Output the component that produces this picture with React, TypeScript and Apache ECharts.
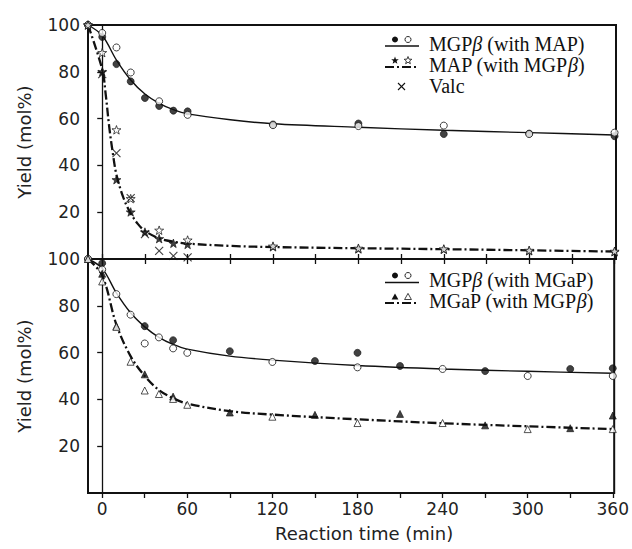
import React, { useEffect, useRef } from "react";
import * as echarts from "echarts";

// ---------- axis values ----------
const xTickValues = [0, 30, 60, 90, 120, 150, 180, 210, 240, 270, 300, 330, 360];
const xLabelValues = [0, 60, 120, 180, 240, 300, 360];
const yLabelValues = [20, 40, 60, 80, 100];
const yRightTicks = [20, 40, 60, 80];

// ---------- top panel: MGPβ with MAP ----------
const topMGPFilled = [[-10, 100], [0, 94.9], [10, 83.3], [20, 75.9], [30, 68.8], [40, 65.4], [50, 63.4], [60, 63.1], [120, 57.5], [180, 57.9], [240, 53.4], [300, 53.6], [360, 52.5]];
const topMGPOpen = [[-10, 100], [0, 96.6], [10, 90.4], [20, 79.7], [40, 67.4], [60, 61.6], [120, 57.2], [180, 56.8], [240, 57], [300, 53.4], [360, 54]];
const topMAPFilled = [[-10, 100], [0, 80], [10, 33.9], [20, 20.1], [30, 11.5], [40, 8.7], [50, 6.7], [60, 6.2], [120, 5.2], [180, 4.3], [240, 4.1], [300, 3.5], [360, 3.1]];
const topMAPOpen = [[-10, 100], [0, 88.2], [10, 55.2], [20, 25.8], [40, 12.3], [60, 8.1], [120, 5.5], [180, 4.6], [240, 4.3], [300, 3.7], [360, 3.3]];
const topValc = [[0, 79], [10, 45.2], [20, 26], [30, 10.6], [40, 3.5], [50, 1.3], [60, 0.7]];
const fitTopMGP = [[-10, 100], [0, 95.5], [10, 85], [20, 76.5], [30, 70.5], [40, 66.5], [50, 63.8], [60, 62], [90, 59.5], [120, 57.8], [180, 56.3], [240, 55], [300, 54], [360, 53]];
const fitTopMAP = [[-10, 100], [0, 81], [2.5, 70], [5, 56], [7.5, 45], [10, 36], [15, 26], [20, 19.5], [25, 15], [30, 12], [40, 8.8], [50, 7.4], [60, 6.6], [90, 5.6], [120, 5.1], [180, 4.6], [240, 4.2], [300, 3.7], [360, 3.2]];

// ---------- bottom panel: MGPβ with MGaP ----------
const botMGPFilled = [[-10, 100], [0, 98.2], [30, 71.3], [50, 65.3], [90, 60.6], [150, 56.4], [180, 59.9], [210, 54.3], [270, 52.1], [330, 53], [360, 53.3]];
const botMGPOpen = [[-10, 100], [0, 95.5], [10, 85], [20, 76.2], [30, 63.9], [40, 66.5], [50, 61.8], [60, 59.9], [120, 56], [180, 53.7], [240, 53], [300, 50], [360, 50]];
const botMGaPFilled = [[-10, 100], [0, 93.7], [10, 71.3], [30, 50.7], [50, 41.2], [90, 34.4], [150, 33.4], [210, 33.8], [270, 28.9], [330, 27.7], [360, 33.1]];
const botMGaPOpen = [[-10, 100], [0, 90.4], [10, 71], [20, 56.1], [30, 43.8], [40, 42.3], [50, 40.2], [60, 37.7], [120, 32.6], [180, 29.9], [240, 29.9], [300, 27.3], [360, 27.3]];
const fitBotMGP = [[-10, 100], [0, 96], [10, 85.5], [20, 77], [30, 71], [40, 66.5], [50, 63.5], [60, 61.5], [90, 58.5], [120, 56.8], [180, 54.5], [240, 53], [300, 52], [360, 51.2]];
const fitBotMGaP = [[-10, 100], [0, 93], [10, 72], [20, 58.5], [30, 50], [40, 44], [50, 40.5], [60, 38.2], [90, 35], [120, 33.5], [180, 31.5], [240, 29.8], [300, 28.5], [360, 27.3]];

const INK = "#111";
const STAR = "path://M0,-10L2.35,-3.24L9.51,-3.09L3.8,1.24L5.88,8.09L0,4L-5.88,8.09L-3.8,1.24L-9.51,-3.09L-2.35,-3.24Z";
const CROSS = "path://M0,0L10,10M10,0L0,10";
const DASHDOT = [9, 3, 2, 3];

function starPoints(cx: number, cy: number, r: number): number[][] {
  const pts: number[][] = [];
  for (let i = 0; i < 10; i++) {
    const a = -Math.PI / 2 + (i * Math.PI) / 5;
    const rr = i % 2 === 0 ? r : r * 0.42;
    pts.push([cx + rr * Math.cos(a), cy + rr * Math.sin(a)]);
  }
  return pts;
}

function triPoints(cx: number, cy: number, r: number): number[][] {
  return [[cx, cy - r], [cx + r * 0.95, cy + r * 0.7], [cx - r * 0.95, cy + r * 0.7]];
}

export default function App() {
  const ref = useRef<HTMLDivElement>(null);
  useEffect(() => {
    if (!ref.current) return;
    const chart = echarts.init(ref.current, null, { renderer: "svg" });

    const filled = { color: INK, borderColor: INK, borderWidth: 0.8 };
    const open = { color: "#fff", borderColor: INK, borderWidth: 1 };

    const xAxisBase = (grid: number, pos: string, ticks: boolean, labels: boolean) => ({
      type: "value",
      gridIndex: grid,
      position: pos,
      min: -10,
      max: 361,
      axisLine: { show: false },
      splitLine: { show: false },
      axisTick: ticks
        ? { show: true, inside: true, length: 5, customValues: xTickValues, lineStyle: { color: INK, width: 1.3 } }
        : { show: false },
      axisLabel: labels
        ? { show: true, customValues: xLabelValues, margin: 7, color: "#222", fontFamily: "DejaVu Sans", fontSize: 17 }
        : { show: false },
    });

    const yLeft = (grid: number) => ({
      type: "value",
      gridIndex: grid,
      position: "left",
      min: 0,
      max: 100,
      axisLine: { show: false },
      splitLine: { show: false },
      axisTick: { show: false },
      axisLabel: { show: true, customValues: yLabelValues, margin: 8, color: "#222", fontFamily: "DejaVu Sans", fontSize: 17 },
      name: "Yield (mol%)",
      nameLocation: "middle",
      nameGap: 55,
      nameTextStyle: { color: "#222", fontFamily: "DejaVu Sans", fontSize: 18 },
    });

    const yRight = (grid: number) => ({
      type: "value",
      gridIndex: grid,
      position: "right",
      min: 0,
      max: 100,
      axisLine: { show: false },
      splitLine: { show: false },
      axisTick: { show: true, inside: true, length: 5, customValues: yRightTicks, lineStyle: { color: INK, width: 1.3 } },
      axisLabel: { show: false },
    });

    const vline = {
      symbol: ["none", "none"],
      silent: true,
      label: { show: false },
      lineStyle: { color: INK, width: 1.3, type: "solid" },
      data: [{ xAxis: 0 }],
    };

    const scatter = (name: string, data: number[][], xi: number, yi: number, symbol: string, size: number, style: any) => ({
      name,
      type: "scatter",
      xAxisIndex: xi,
      yAxisIndex: yi,
      data,
      symbol,
      symbolSize: size,
      symbolKeepAspect: true,
      itemStyle: style,
      z: 5,
    });

    const fit = (name: string, data: number[][], xi: number, yi: number, dashed: boolean, mark: boolean) => ({
      name,
      type: "line",
      xAxisIndex: xi,
      yAxisIndex: yi,
      data,
      showSymbol: false,
      smooth: 0.35,
      lineStyle: dashed
        ? { color: INK, width: 2.3, type: DASHDOT }
        : { color: INK, width: 1.4, type: "solid" },
      z: 3,
      ...(mark ? { markLine: vline } : {}),
    });

    const serif = "Liberation Serif";
    const legendText = (x: number, y: number, text: string) => ({
      type: "text",
      x,
      y,
      style: {
        text,
        font: `20px ${serif}`,
        fill: "#111",
        verticalAlign: "middle",
        align: "left",
        rich: { i: { fontStyle: "italic", fontFamily: serif, fontSize: 20 } },
      },
    });
    const lx0 = 385, lx1 = 419, m1 = 395, m2 = 408;

    const graphic: any[] = [
      // top legend row 1
      { type: "line", shape: { x1: lx0, y1: 46, x2: lx1, y2: 46 }, style: { stroke: INK, lineWidth: 1.4 } },
      { type: "circle", shape: { cx: m1, cy: 39.5, r: 3 }, style: { fill: INK } },
      { type: "circle", shape: { cx: m2, cy: 39.5, r: 3 }, style: { fill: "#fff", stroke: INK, lineWidth: 0.9 } },
      legendText(429, 44, "MGP{i|β} (with MAP)"),
      // top legend row 2
      { type: "line", shape: { x1: lx0, y1: 67, x2: lx1, y2: 67 }, style: { stroke: INK, lineWidth: 2.2, lineDash: DASHDOT } },
      { type: "polygon", shape: { points: starPoints(m1, 60.5, 4) }, style: { fill: INK } },
      { type: "polygon", shape: { points: starPoints(m2, 60.5, 4) }, style: { fill: "#fff", stroke: INK, lineWidth: 0.8 } },
      legendText(429, 65, "MAP (with MGP{i|β})"),
      // top legend row 3
      { type: "line", shape: { x1: 398, y1: 83, x2: 405, y2: 90 }, style: { stroke: INK, lineWidth: 1.1 } },
      { type: "line", shape: { x1: 405, y1: 83, x2: 398, y2: 90 }, style: { stroke: INK, lineWidth: 1.1 } },
      legendText(429, 86, "Valc"),
      // bottom legend row 1
      { type: "line", shape: { x1: lx0, y1: 282.5, x2: lx1, y2: 282.5 }, style: { stroke: INK, lineWidth: 1.4 } },
      { type: "circle", shape: { cx: m1, cy: 275.5, r: 3 }, style: { fill: INK } },
      { type: "circle", shape: { cx: m2, cy: 275.5, r: 3 }, style: { fill: "#fff", stroke: INK, lineWidth: 0.9 } },
      legendText(429, 280, "MGP{i|β} (with MGaP)"),
      // bottom legend row 2
      { type: "line", shape: { x1: lx0, y1: 303, x2: lx1, y2: 303 }, style: { stroke: INK, lineWidth: 2.2, lineDash: DASHDOT } },
      { type: "polygon", shape: { points: triPoints(m1, 297, 3.6) }, style: { fill: INK } },
      { type: "polygon", shape: { points: triPoints(m2, 297, 3.6) }, style: { fill: "#fff", stroke: INK, lineWidth: 0.8 } },
      legendText(429, 301, "MGaP (with MGP{i|β})"),
    ];

    const option: any = {
      animation: false,
      backgroundColor: "#fff",
      grid: [
        { left: 88, top: 25, width: 528, height: 234, show: true, borderColor: INK, borderWidth: 2, backgroundColor: "transparent" },
        { left: 88, top: 259, width: 528, height: 234, show: true, borderColor: INK, borderWidth: 2, backgroundColor: "transparent" },
      ],
      xAxis: [
        xAxisBase(0, "bottom", true, false),
        xAxisBase(0, "top", true, false),
        {
          ...xAxisBase(1, "bottom", false, true),
          name: "Reaction time (min)",
          nameLocation: "middle",
          nameGap: 31,
          nameTextStyle: { color: "#222", fontFamily: "DejaVu Sans", fontSize: 18, padding: [0, 0, 0, 26] },
        },
        xAxisBase(1, "top", true, false),
      ],
      yAxis: [yLeft(0), yRight(0), yLeft(1), yRight(1)],
      series: [
        fit("MGPβ fit (with MAP)", fitTopMGP, 0, 0, false, true),
        fit("MAP fit (with MGPβ)", fitTopMAP, 0, 0, true, false),
        scatter("MGPβ (with MAP) filled", topMGPFilled, 0, 0, "circle", 7, filled),
        scatter("MGPβ (with MAP) open", topMGPOpen, 0, 0, "circle", 7, open),
        scatter("MAP (with MGPβ) filled", topMAPFilled, 0, 0, STAR, 9, filled),
        scatter("MAP (with MGPβ) open", topMAPOpen, 0, 0, STAR, 9, { color: "#fff", borderColor: INK, borderWidth: 0.9 }),
        scatter("Valc", topValc, 0, 0, CROSS, 8, { color: "rgba(0,0,0,0)", borderColor: INK, borderWidth: 1.1 }),
        fit("MGPβ fit (with MGaP)", fitBotMGP, 2, 2, false, true),
        fit("MGaP fit (with MGPβ)", fitBotMGaP, 2, 2, true, false),
        scatter("MGPβ (with MGaP) filled", botMGPFilled, 2, 2, "circle", 7, filled),
        scatter("MGPβ (with MGaP) open", botMGPOpen, 2, 2, "circle", 7, open),
        scatter("MGaP (with MGPβ) filled", botMGaPFilled, 2, 2, "triangle", 7, filled),
        scatter("MGaP (with MGPβ) open", botMGaPOpen, 2, 2, "triangle", 7, { color: "#fff", borderColor: INK, borderWidth: 0.9 }),
      ],
      graphic,
    };

    chart.setOption(option);
    return () => chart.dispose();
  }, []);

  return <div ref={ref} style={{ position: "fixed", left: 0, top: 0, width: 632, height: 549, background: "#fff" }} />;
}
